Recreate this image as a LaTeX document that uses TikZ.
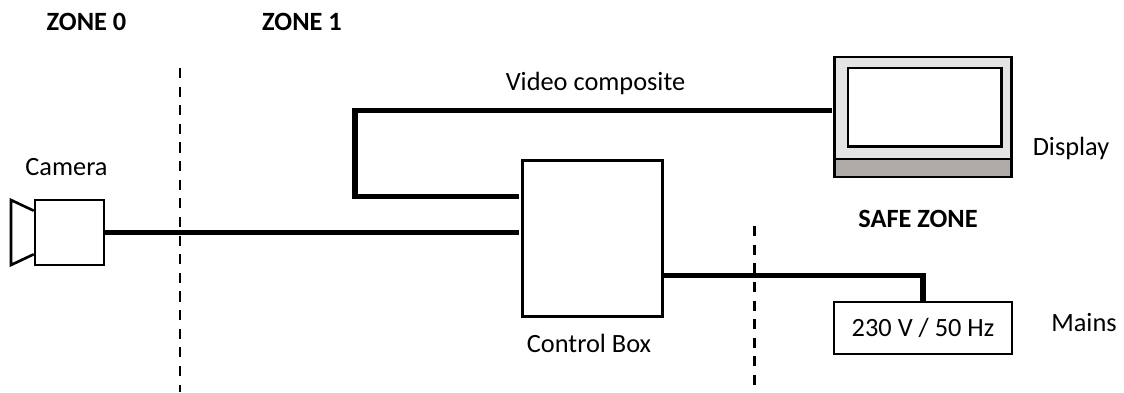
\documentclass[tikz,border=0pt]{standalone}
\usepackage{fontspec}
\setmainfont{Carlito}
\usepackage{tikz}
\usetikzlibrary{positioning,calc}
\definecolor{bezel}{RGB}{228,228,228}
\definecolor{stand}{RGB}{175,171,168}
\tikzset{
  unit/.style={draw,line width=1.5pt,fill=white,inner sep=0pt},
  cable/.style={line width=2.9pt},
  zoneline/.style={line width=1.7pt,dash pattern=on 5.7pt off 4.9pt},
  lbl/.style={font=\fontsize{15pt}{17pt}\selectfont,inner sep=0pt},
  zonelbl/.style={lbl,font=\fontsize{15pt}{17pt}\selectfont\bfseries}
}
\begin{document}
\begin{tikzpicture}
[x=0.02cm,y=-0.02cm]
\useasboundingbox (0,0) rectangle (1124,392);
% zones
\coordinate (z1top) at (180,68);
\coordinate (z1bot) at (180,392);
\coordinate (z2top) at (754,226);
\coordinate (z2bot) at (754,386);
\draw[zoneline] (z1top) -- (z1bot);
\draw[zoneline] (z2top) -- (z2bot);
\node[zonelbl] (zone0) at (86.5,22) {ZONE 0};
\node[zonelbl] (zone1) at (302,22) {ZONE 1};
\node[zonelbl] (safe) at (918,219) {SAFE ZONE};
% camera
\node[unit,minimum width=1.38cm,minimum height=1.3cm] (cam) at (69.5,232.5) {};
\coordinate (hornA) at ($(cam.north west)+(0,12)$);
\coordinate (hornB) at (11,200);
\coordinate (hornC) at (11,265);
\coordinate (hornD) at ($(cam.south west)+(0,-12)$);
\draw[line width=1.5pt] (hornA) -- (hornB) -- (hornC) -- (hornD);
\node[lbl] (camlbl) at (66.5,167) {Camera};
% control box
\node[unit,minimum width=2.8cm,minimum height=3.11cm] (ctrl) at (592.3,238.5) {};
\node[lbl] (ctrllbl) at (589,343) {Control Box};
% display
\node[unit,fill=bezel,minimum width=3.54cm,minimum height=2.04cm] (disp) at (923,108) {};
\node[unit,fill=stand,minimum width=3.54cm,minimum height=0.36cm] (base) at (923,168) {};
\node[unit,minimum width=3.07cm,minimum height=1.57cm] (screen) at (924.7,107.3) {};
\node[lbl] (displbl) at (1071,148) {Display};
% mains
\node[unit,font=\fontsize{15pt}{17pt}\selectfont,minimum width=3.56cm,minimum height=1.04cm] (mains) at (923,328) {230 V / 50 Hz};
\node[lbl] (mainslbl) at (1084,323) {Mains};
\node[lbl] (vidlbl) at (595.5,83) {Video composite};
% cables
\coordinate (vidL) at (355,110.7);
\coordinate (vidB) at (355,196.7);
\coordinate (pwrT) at (923,275.7);
\draw[cable,shorten >=0.9pt] (cam.east) -- (ctrl.west |- cam.east);
\draw[cable,shorten <=0.9pt,shorten >=0.9pt] (disp.west |- vidL) -- (vidL) -- (vidB) -- (ctrl.west |- vidB);
\draw[cable] (ctrl.east |- pwrT) -- (pwrT) -- (pwrT |- mains.north);
\end{tikzpicture}
\end{document}
